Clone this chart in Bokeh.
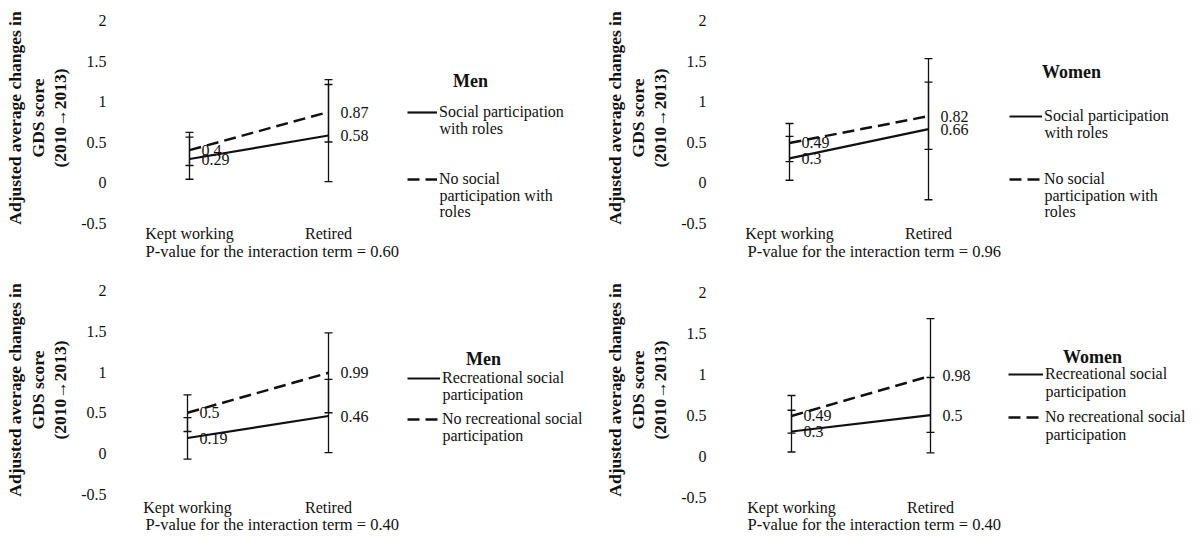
from bokeh.plotting import figure
from bokeh.models import (Range1d, FixedTicker, Whisker, TeeHead, ColumnDataSource,
                          Legend, LegendItem, Label, Title)
from bokeh.layouts import column, row
from bokeh.embed import file_html
from bokeh.resources import INLINE
from bokeh.core.properties import value

# ---------------- data ----------------
categories = ["Kept working", "Retired"]
y_ticks = [-0.5, 0, 0.5, 1, 1.5, 2]
y_title = "Adjusted average changes in\nGDS score\n(2010\u21922013)"

# Men - social participation with roles
men_roles_yes = [0.29, 0.58]
men_roles_yes_lo = [0.04, 0.01]
men_roles_yes_hi = [0.56, 1.21]
men_roles_no = [0.40, 0.87]
men_roles_no_lo = [0.21, 0.50]
men_roles_no_hi = [0.62, 1.27]

# Women - social participation with roles
women_roles_yes = [0.30, 0.66]
women_roles_yes_lo = [0.03, -0.21]
women_roles_yes_hi = [0.57, 1.53]
women_roles_no = [0.49, 0.82]
women_roles_no_lo = [0.26, 0.41]
women_roles_no_hi = [0.73, 1.24]

# Men - recreational social participation
men_rec_yes = [0.19, 0.46]
men_rec_yes_lo = [-0.07, 0.01]
men_rec_yes_hi = [0.44, 0.91]
men_rec_no = [0.50, 0.99]
men_rec_no_lo = [0.27, 0.50]
men_rec_no_hi = [0.72, 1.48]

# Women - recreational social participation
women_rec_yes = [0.30, 0.50]
women_rec_yes_lo = [0.05, 0.04]
women_rec_yes_hi = [0.56, 0.96]
women_rec_no = [0.49, 0.98]
women_rec_no_lo = [0.28, 0.29]
women_rec_no_hi = [0.74, 1.68]

roles_labels = ["Social participation\nwith roles", "No social\nparticipation with\nroles"]
rec_labels = ["Recreational social\nparticipation", "No recreational social\nparticipation"]
p_values = ["0.60", "0.96", "0.40", "0.40"]
titles = ["Men", "Women", "Men", "Women"]

FONT = "Liberation Serif"
INK = "#111111"

# ---------------- layout (pixel geometry of each panel, picture coords) ----------------
geoms = [
    dict(x0=0, y0=0, w=597, h=270, kept=189, ret=328, zero=182, ppu=81.0,
         fl=110, fr=593, ft=12, fb=223, pl=145, pst=-9, tcx=470, tcy=80,
         lx0=407, lx1=437, tx=439, sy=112, dy=179),
    dict(x0=597, y0=0, w=597, h=270, kept=789, ret=928, zero=183, ppu=81.5,
         fl=710, fr=1190, ft=12, fb=224, pl=747, pst=-9, tcx=1071, tcy=72,
         lx0=1009, lx1=1042, tx=1044, sy=117, dy=180),
    dict(x0=0, y0=270, w=597, h=268, kept=187, ret=328, zero=453, ppu=81.5,
         fl=110, fr=593, ft=282, fb=497, pl=145, pst=-12, tcx=483, tcy=358,
         lx0=407, lx1=440, tx=442, sy=378, dy=419),
    dict(x0=597, y0=270, w=597, h=268, kept=791, ret=930, zero=458, ppu=83.0,
         fl=710, fr=1190, ft=282, fb=500, pl=747, pst=-11, tcx=1092, tcy=358,
         lx0=1008, lx1=1043, tx=1045, sy=377, dy=420),
]

panels_data = [
    dict(yes=men_roles_yes, yes_lo=men_roles_yes_lo, yes_hi=men_roles_yes_hi,
         no=men_roles_no, no_lo=men_roles_no_lo, no_hi=men_roles_no_hi, labels=roles_labels),
    dict(yes=women_roles_yes, yes_lo=women_roles_yes_lo, yes_hi=women_roles_yes_hi,
         no=women_roles_no, no_lo=women_roles_no_lo, no_hi=women_roles_no_hi, labels=roles_labels),
    dict(yes=men_rec_yes, yes_lo=men_rec_yes_lo, yes_hi=men_rec_yes_hi,
         no=men_rec_no, no_lo=men_rec_no_lo, no_hi=men_rec_no_hi, labels=rec_labels),
    dict(yes=women_rec_yes, yes_lo=women_rec_yes_lo, yes_hi=women_rec_yes_hi,
         no=women_rec_no, no_lo=women_rec_no_lo, no_hi=women_rec_no_hi, labels=rec_labels),
]

LINE_H = 16
ITEM_H = 18


def make_panel(g, d, title, pval):
    ppx = g["ret"] - g["kept"]

    def dx(px):
        return (px - g["kept"]) / ppx

    def dyv(py):
        return (g["zero"] - py) / g["ppu"]

    p = figure(width=g["w"], height=g["h"],
               x_range=Range1d(dx(g["fl"]), dx(g["fr"])),
               y_range=Range1d(dyv(g["fb"]), dyv(g["ft"])),
               min_border_left=g["fl"] - g["x0"],
               min_border_right=g["x0"] + g["w"] - g["fr"],
               min_border_top=g["ft"] - g["y0"],
               min_border_bottom=g["y0"] + g["h"] - g["fb"],
               output_backend="svg", toolbar_location=None)

    xs = list(range(len(categories)))

    # error bars
    for lo, hi in ((d["yes_lo"], d["yes_hi"]), (d["no_lo"], d["no_hi"])):
        src = ColumnDataSource(dict(x=xs, lower=lo, upper=hi))
        w = Whisker(base="x", lower="lower", upper="upper", source=src, dimension="height",
                    line_color=INK, line_width=1.3,
                    upper_head=TeeHead(size=8, line_color=INK, line_width=1.3),
                    lower_head=TeeHead(size=8, line_color=INK, line_width=1.3))
        p.add_layout(w)

    r_yes = p.line(xs, d["yes"], line_color=INK, line_width=2.2)
    r_no = p.line(xs, d["no"], line_color=INK, line_width=2.5, line_dash="12 6")

    vals = d["yes"] + d["no"]
    tsrc = ColumnDataSource(dict(x=xs + xs, y=vals, t=[f"{v:g}" for v in vals]))
    p.text(x="x", y="y", text="t", source=tsrc, x_offset=12, text_baseline="middle",
           text_align="left", text_font=value(FONT), text_font_size=value("16px"),
           text_color=INK)

    # axes
    p.yaxis.ticker = FixedTicker(ticks=y_ticks)
    p.yaxis.major_label_overrides = {t: f"{t:g}" for t in y_ticks}
    p.yaxis.axis_label = y_title
    p.yaxis.axis_label_text_font = FONT
    p.yaxis.axis_label_text_font_style = "bold"
    p.yaxis.axis_label_text_font_size = "17.5px"
    p.yaxis.axis_label_text_line_height = 1.12
    p.yaxis.axis_label_text_color = INK
    p.yaxis.axis_label_standoff = 8
    p.yaxis.major_label_standoff = 4

    p.xaxis.ticker = FixedTicker(ticks=xs)
    p.xaxis.major_label_overrides = {i: c for i, c in enumerate(categories)}
    p.xaxis.major_label_standoff = 1

    for ax in p.axis:
        ax.axis_line_color = None
        ax.major_tick_line_color = None
        ax.minor_tick_line_color = None
        ax.major_tick_out = 0
        ax.major_tick_in = 0
        ax.major_label_text_font = FONT
        ax.major_label_text_font_size = "16px"
        ax.major_label_text_color = INK

    p.grid.visible = False
    p.outline_line_color = None

    # P-value line under the category labels
    p.add_layout(Title(text=f"P-value for the interaction term = {pval}", align="left",
                       offset=g["pl"] - g["fl"], standoff=g["pst"], text_font=FONT,
                       text_font_style="normal", text_font_size="16.5px",
                       text_color=INK), "below")

    # legend
    yes_lines = d["labels"][0].split("\n")
    no_lines = d["labels"][1].split("\n")
    lg = Legend(items=[LegendItem(label=yes_lines[0], renderers=[r_yes]),
                       LegendItem(label=no_lines[0], renderers=[r_no])],
                location=(g["lx0"] - g["fl"], g["fb"] - (g["dy"] + ITEM_H / 2)),
                spacing=int(round(g["dy"] - g["sy"] - ITEM_H)),
                glyph_width=g["lx1"] - g["lx0"], glyph_height=16, label_height=16,
                label_standoff=g["tx"] - g["lx1"], padding=0, margin=0,
                border_line_color=None, background_fill_alpha=0,
                label_text_font=FONT, label_text_font_size="16px", label_text_color=INK)
    p.add_layout(lg)

    for base_y, lines in ((g["sy"], yes_lines), (g["dy"], no_lines)):
        for i, ln in enumerate(lines[1:]):
            p.add_layout(Label(x=dx(g["tx"]), y=dyv(base_y + LINE_H * (i + 1)), text=ln,
                               text_align="left", text_baseline="middle", text_font=FONT,
                               text_font_size="16px", text_color=INK))

    p.add_layout(Label(x=dx(g["tcx"]), y=dyv(g["tcy"]), text=title, text_align="center",
                       text_baseline="middle", text_font=FONT, text_font_style="bold",
                       text_font_size="18px", text_color=INK))
    return p


figs = [make_panel(g, d, t, pv) for g, d, t, pv in zip(geoms, panels_data, titles, p_values)]
layout = column(row(figs[0], figs[1]), row(figs[2], figs[3]))

open("out.html", "w").write(file_html(layout, INLINE))
